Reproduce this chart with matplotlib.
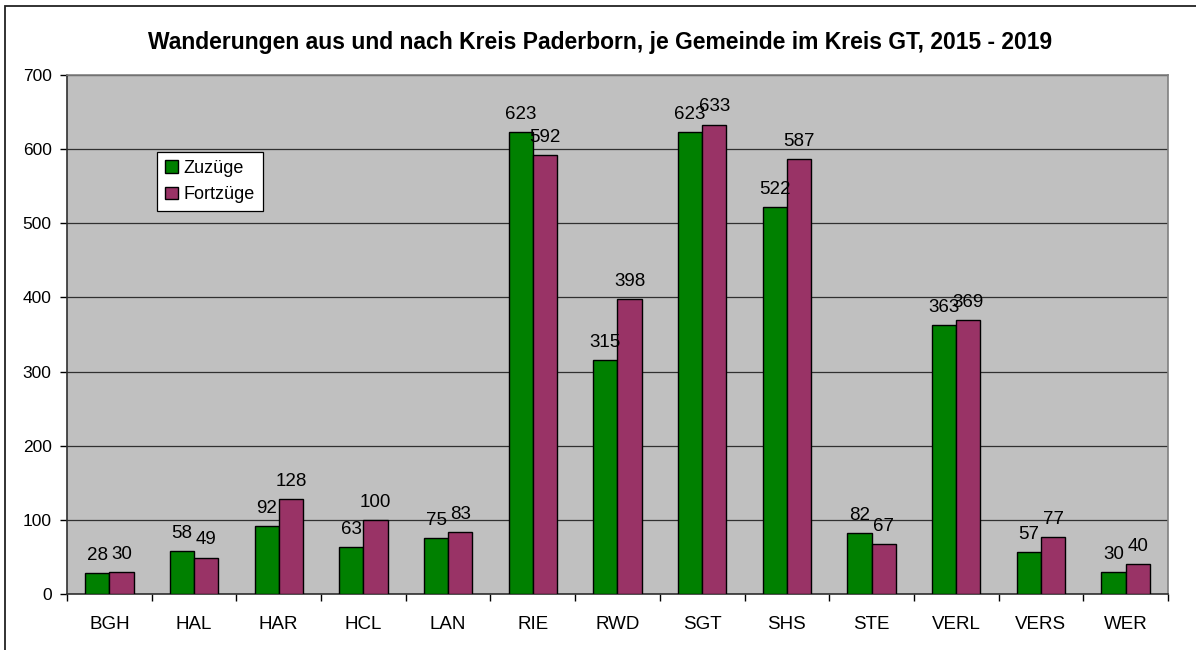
import matplotlib
matplotlib.use("Agg")
import matplotlib.pyplot as plt
import numpy as np
from matplotlib.patches import Rectangle

plt.rcParams['font.family'] = ['Liberation Sans', 'DejaVu Sans']

title = "Wanderungen aus und nach Kreis Paderborn, je Gemeinde im Kreis GT, 2015 - 2019"
gemeinden = ["BGH", "HAL", "HAR", "HCL", "LAN", "RIE", "RWD", "SGT", "SHS", "STE", "VERL", "VERS", "WER"]
zuzuege = [28, 58, 92, 63, 75, 623, 315, 623, 522, 82, 363, 57, 30]
fortzuege = [30, 49, 128, 100, 83, 592, 398, 633, 587, 67, 369, 77, 40]
series_names = ["Zuzüge", "Fortzüge"]
series_colors = ["#008000", "#993366"]

W, H = 1196, 650
fig = plt.figure(figsize=(W / 100, H / 100), dpi=100)
ax = fig.add_axes([67 / W, 1 - 594 / H, (1168 - 67) / W, (594 - 75) / H])
ax.set_facecolor("#C0C0C0")

# outer chart border (runs off the right and bottom edge)
fig.patches.append(Rectangle((4.5 / W, -0.1), 1.2, 1 - 5.5 / H + 0.1,
                             transform=fig.transFigure, fill=False,
                             edgecolor="#222222", linewidth=1.3, zorder=0))

x = np.arange(len(gemeinden))
bw = 1 / 3.5
for i, (vals, name, col) in enumerate(zip([zuzuege, fortzuege], series_names, series_colors)):
    pos = x - bw / 2 + i * bw
    ax.bar(pos, vals, width=bw, color=col, edgecolor="black", linewidth=1.0,
           label=name, zorder=3)
    for p, v in zip(pos, vals):
        ax.annotate(str(v), (p, v), xytext=(0, 9.5), textcoords="offset points",
                    ha="center", va="baseline", fontsize=13.5, color="black", zorder=4)

ax.set_xlim(-0.5, len(gemeinden) - 0.5)
ax.set_ylim(0, 700)
ax.set_yticks(range(0, 701, 100))
ax.yaxis.grid(True, color="#303030", linewidth=0.9, zorder=1)
ax.set_axisbelow(True)

ax.set_xticks(x)
ax.set_xticklabels(gemeinden, fontsize=13.5)
ax.set_xticks(np.arange(-0.5, len(gemeinden)), minor=True)
ax.tick_params(axis="x", which="major", length=0, pad=15.5)
ax.tick_params(axis="x", which="minor", length=5, width=1, color="black", direction="out")
ax.tick_params(axis="y", length=5, width=1, color="black", direction="out", pad=6, labelsize=12.5)

for side in ["top", "right"]:
    ax.spines[side].set_color("#808080")
    ax.spines[side].set_linewidth(1.2)
for side in ["left", "bottom"]:
    ax.spines[side].set_color("#303030")
    ax.spines[side].set_linewidth(1.2)

leg = ax.legend(loc="upper left", bbox_to_anchor=(157 / W, 1 - 152 / H),
                bbox_transform=fig.transFigure, borderaxespad=0, fancybox=False,
                framealpha=1, edgecolor="black", fontsize=13,
                handlelength=0.7, handleheight=0.7, handletextpad=0.3,
                labelspacing=0.5, borderpad=0.45)
leg.get_frame().set_linewidth(0.9)

fig.text(600 / W, 1 - 42 / H, title, ha="center", va="center",
         fontsize=16.5, fontweight="bold")

fig.savefig("out.png", dpi=100)
